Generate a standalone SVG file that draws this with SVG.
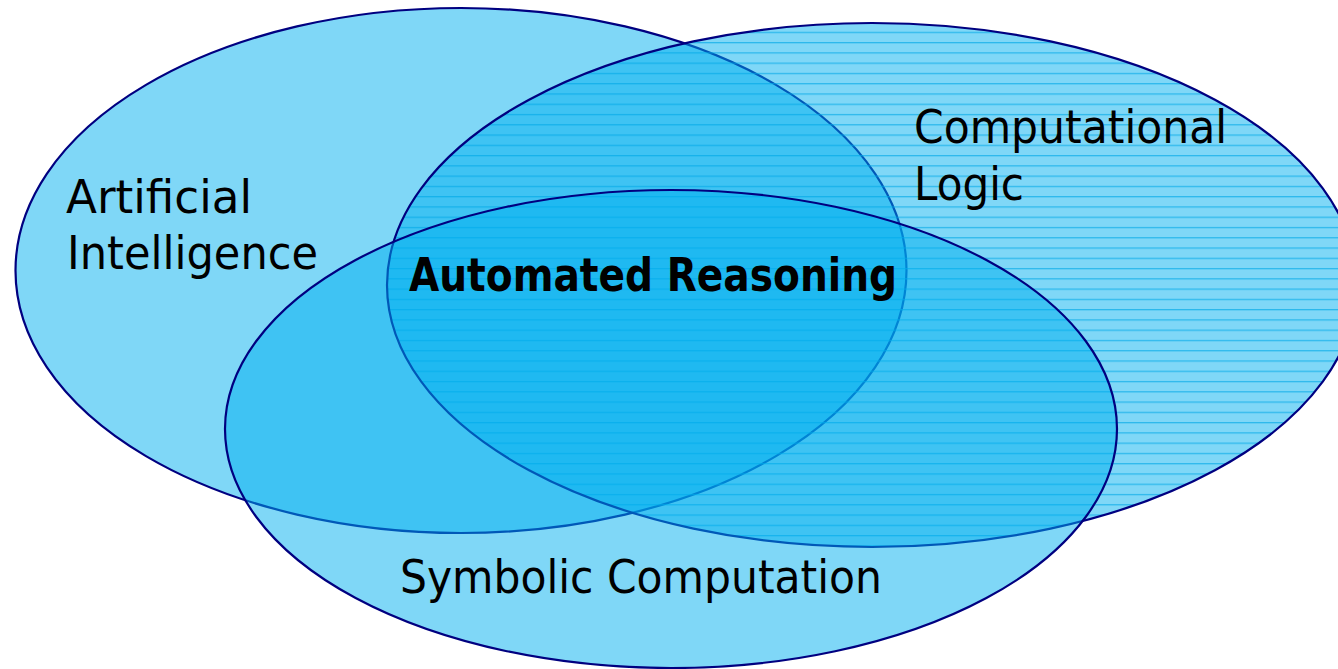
<svg xmlns="http://www.w3.org/2000/svg" width="1338" height="669" viewBox="0 0 1338 669">
  <defs>
    <!-- horizontal ruling used inside the Computational Logic set -->
    <pattern id="ruling" patternUnits="userSpaceOnUse" x="0" y="0" width="20" height="10.27">
      <line x1="0" y1="1.6" x2="20" y2="1.6" stroke="#00A8E8" stroke-opacity="0.7" stroke-width="1.2"/>
    </pattern>
  </defs>
  <style>
    .set { fill: #00B0F0; fill-opacity: 0.5; stroke: none; }
    .edge { fill: none; stroke: #000080; stroke-width: 2.2; }
    .label { font-family: "DejaVu Sans", "Liberation Sans", sans-serif; font-size: 46px; fill: #000000; }
    .core { font-weight: bold; }
  </style>
  <rect width="1338" height="669" fill="#FFFFFF"/>

  <!-- Artificial Intelligence -->
  <g id="artificial-intelligence">
    <ellipse class="set" cx="461" cy="270.5" rx="445.5" ry="262.5"/>
    <ellipse class="edge" cx="461" cy="270.5" rx="445.5" ry="262.5"/>
    <text class="label" x="66" y="213" textLength="186" lengthAdjust="spacingAndGlyphs">Artificial</text>
    <text class="label" x="67" y="269" textLength="251" lengthAdjust="spacingAndGlyphs">Intelligence</text>
  </g>

  <!-- Computational Logic -->
  <g id="computational-logic">
    <ellipse class="set" cx="872" cy="285" rx="485" ry="262"/>
    <ellipse cx="872" cy="285" rx="485" ry="262" fill="url(#ruling)"/>
    <ellipse class="edge" cx="872" cy="285" rx="485" ry="262"/>
    <text class="label" x="914" y="143" textLength="313" lengthAdjust="spacingAndGlyphs">Computational</text>
    <text class="label" x="914" y="200" textLength="110" lengthAdjust="spacingAndGlyphs">Logic</text>
  </g>

  <!-- Symbolic Computation -->
  <g id="symbolic-computation">
    <ellipse class="set" cx="671" cy="429" rx="446" ry="239"/>
    <ellipse class="edge" cx="671" cy="429" rx="446" ry="239"/>
    <text class="label" x="400" y="593" textLength="482" lengthAdjust="spacingAndGlyphs">Symbolic Computation</text>
  </g>

  <!-- common intersection -->
  <g id="automated-reasoning">
    <text class="label core" x="409" y="291" textLength="488" lengthAdjust="spacingAndGlyphs">Automated Reasoning</text>
  </g>

  <g id="connectors"/>
</svg>
